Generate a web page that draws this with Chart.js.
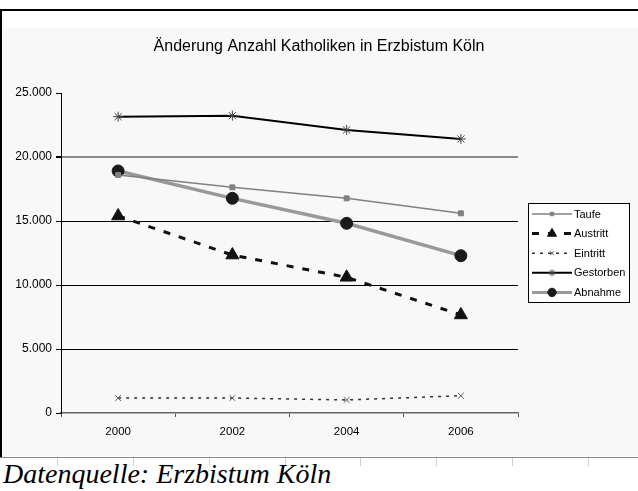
<!DOCTYPE html>
<html>
<head>
<meta charset="utf-8">
<script src="https://cdn.jsdelivr.net/npm/chart.js@4"></script>
<style>
  html, body { margin: 0; padding: 0; background: #fff; }
  body { width: 638px; height: 491px; position: relative; overflow: hidden; }
  #topLine { position: absolute; left: 0; top: 9px; width: 638px; height: 2px; background: #000; }
  #leftLine { position: absolute; left: 0; top: 9px; width: 2px; height: 449px; background: #000; }
  #frame { position: absolute; left: 3px; top: 28px; width: 635px; height: 428px; background: #f8f8f8; }
  #chart { position: absolute; left: 3px; top: 28px; }
  #sep { position: absolute; left: 0; top: 457px; width: 638px; height: 1px; background: #8a8a8a; }
  .cell { position: absolute; top: 458px; width: 1px; height: 8px; background: #d0d0d0; }
  #caption { position: absolute; left: 3px; top: 458px; font: italic 28px "Liberation Serif", serif; color: #000; white-space: nowrap; }
</style>
</head>
<body>
<div id="topLine"></div>
<div id="frame"></div>
<canvas id="chart" width="635" height="428"></canvas>
<div id="leftLine"></div>
<div id="sep"></div>
<div class="cell" style="left:57px"></div>
<div class="cell" style="left:133px"></div>
<div class="cell" style="left:209px"></div>
<div class="cell" style="left:285px"></div>
<div class="cell" style="left:360px"></div>
<div class="cell" style="left:436px"></div>
<div class="cell" style="left:512px"></div>
<div class="cell" style="left:588px"></div>
<div id="caption">Datenquelle: Erzbistum Köln</div>

<script>
const years = ["2000", "2002", "2004", "2006"];
const taufe = [18600, 17630, 16770, 15600];
const austritt = [15390, 12340, 10600, 7660];
const eintritt = [1170, 1170, 1020, 1350];
const gestorben = [23150, 23230, 22110, 21410];
const abnahme = [18910, 16770, 14820, 12290];
const yTicks = [0, 5000, 10000, 15000, 20000, 25000];
const chartTitle = "Änderung Anzahl Katholiken in Erzbistum Köln";

const FONT = "'Liberation Sans', Arial, sans-serif";

function formatDe(v) {
  return v === 0 ? "0" : v.toLocaleString("de-DE");
}

// title over the whole frame width (the built-in one shrinks with the right padding)
const frameTitle = {
  id: "frameTitle",
  afterDraw(chart) {
    const ctx = chart.ctx;
    ctx.save();
    ctx.fillStyle = "#000";
    ctx.font = "16px " + FONT;
    ctx.textAlign = "center";
    ctx.textBaseline = "middle";
    ctx.fillText(chartTitle, 316, 19);
    ctx.restore();
  }
};

// legend with frame, line sample and marker like the spreadsheet chart
const boxLegend = {
  id: "boxLegend",
  afterDraw(chart) {
    const ctx = chart.ctx;
    const left = 525, top = 175, right = 627, bottom = 275;
    ctx.save();
    ctx.fillStyle = "#fff";
    ctx.fillRect(left, top, right - left, bottom - top);
    ctx.strokeStyle = "#000";
    ctx.lineWidth = 1;
    ctx.strokeRect(left + 0.5, top + 0.5, right - left - 1, bottom - top - 1);

    chart.data.datasets.forEach((ds, i) => {
      const y = 186 + i * 19.6;
      ctx.save();
      ctx.strokeStyle = ds.borderColor;
      ctx.lineWidth = Math.min(ds.borderWidth, 3);
      ctx.setLineDash(ds.borderDash || []);
      ctx.beginPath();
      ctx.moveTo(529, y);
      ctx.lineTo(569, y);
      ctx.stroke();
      ctx.setLineDash([]);
      ctx.fillStyle = ds.pointBackgroundColor;
      ctx.strokeStyle = ds.pointBorderColor;
      ctx.lineWidth = ds.pointBorderWidth;
      Chart.helpers.drawPoint(ctx, {
        pointStyle: ds.pointStyle,
        radius: ds.pointRadius * 0.7,
        rotation: 0,
        borderWidth: ds.pointBorderWidth
      }, 549, y);
      ctx.restore();

      ctx.fillStyle = "#000";
      ctx.font = "11px " + FONT;
      ctx.textBaseline = "middle";
      ctx.fillText(ds.label, 571, y + 0.5);
    });
    ctx.restore();
  }
};

new Chart(document.getElementById("chart").getContext("2d"), {
  type: "line",
  data: {
    labels: years,
    datasets: [
      {
        label: "Taufe",
        data: taufe,
        borderColor: "#808080",
        borderWidth: 1.5,
        pointStyle: "rect",
        pointRadius: 3.5,
        pointBackgroundColor: "#808080",
        pointBorderColor: "#808080",
        pointBorderWidth: 1
      },
      {
        label: "Austritt",
        data: austritt,
        borderColor: "#111",
        borderWidth: 3,
        borderDash: [7, 9],
        pointStyle: "triangle",
        pointRadius: 7.5,
        pointBackgroundColor: "#111",
        pointBorderColor: "#111",
        pointBorderWidth: 1
      },
      {
        label: "Eintritt",
        data: eintritt,
        borderColor: "#333",
        borderWidth: 1.5,
        borderDash: [3, 5],
        pointStyle: "crossRot",
        pointRadius: 4,
        pointBackgroundColor: "#555",
        pointBorderColor: "#555",
        pointBorderWidth: 1
      },
      {
        label: "Gestorben",
        data: gestorben,
        borderColor: "#000",
        borderWidth: 2,
        pointStyle: "star",
        pointRadius: 5,
        pointBackgroundColor: "#444",
        pointBorderColor: "#444",
        pointBorderWidth: 1
      },
      {
        label: "Abnahme",
        data: abnahme,
        borderColor: "#999",
        borderWidth: 3.5,
        pointStyle: "circle",
        pointRadius: 6,
        pointBackgroundColor: "#1a1a1a",
        pointBorderColor: "#1a1a1a",
        pointBorderWidth: 1
      }
    ]
  },
  options: {
    responsive: false,
    animation: false,
    layout: { padding: { left: 0, right: 120, top: 65, bottom: 0 } },
    plugins: {
      legend: { display: false },
      tooltip: { enabled: false },
      title: { display: false }
    },
    scales: {
      x: {
        offset: true,
        grid: {
          offset: true,
          drawOnChartArea: false,
          drawTicks: true,
          tickLength: 4,
          tickColor: "#555"
        },
        border: { color: "#666", width: 1.5 },
        ticks: {
          color: "#000",
          padding: 8,
          font: { family: FONT, size: 11.5 }
        },
        afterFit(scale) { scale.height = 43; }
      },
      y: {
        min: 0,
        max: 25000,
        afterBuildTicks(scale) {
          scale.ticks = yTicks.map(v => ({ value: v }));
        },
        grid: {
          color: (c) => {
            const v = c.tick && c.tick.value;
            if (v === 25000 || v === 0) return "rgba(0,0,0,0)";
            return v === 20000 ? "#8a8a8a" : "#000";
          },
          lineWidth: (c) => (c.tick && c.tick.value === 20000 ? 2 : 1),
          tickColor: "#000",
          tickLength: 5
        },
        border: { color: "#000", width: 1 },
        ticks: {
          color: "#000",
          padding: 4,
          font: { family: FONT, size: 12 },
          callback: (v) => formatDe(v)
        },
        afterFit(scale) { scale.width = 58; }
      }
    }
  },
  plugins: [frameTitle, boxLegend]
});
</script>
</body>
</html>
